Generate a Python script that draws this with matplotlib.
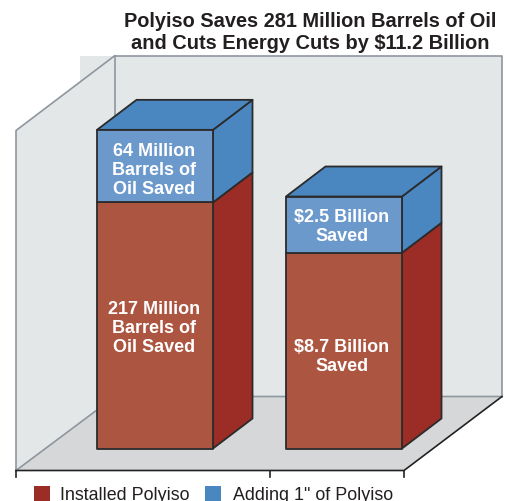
import matplotlib
matplotlib.use('Agg')
import matplotlib.pyplot as plt
from matplotlib.patches import Polygon, Rectangle

plt.rcParams['font.family'] = ['Liberation Sans', 'DejaVu Sans']

# values
categories = ['Barrels', 'Dollars']
installed = [217, 8.7]
adding = [64, 2.5]
bar_labels_low = ['217 Million\nBarrels of\nOil Saved', '$8.7 Billion\nSaved']
bar_labels_up = ['64 Million\nBarrels of\nOil Saved', '$2.5 Billion\nSaved']
legend_names = ['Installed Polyiso', 'Adding 1" of Polyiso']
title = 'Polyiso Saves 281 Million Barrels of Oil\nand Cuts Energy Cuts by $11.2 Billion'

# the two bars have no shared axis, each one has its own scale (px per unit)
scales = [1.134, 22.5]
bar_left = [97, 286]
bar_w = 116
base_y = 449
dx, dy = 39.5, -30
# small nudges so the labels sit where they do in the source
label_dx = [-1, -2]
low_dy = [2, 5]
up_dy = [3.5, 1.5]

RED_FRONT = '#AC5641'
RED_SIDE = '#9C2C26'
BLUE_FRONT = '#6C99CC'
BLUE_SIDE = '#4A86C0'
EDGE = '#2B2B2B'
WALL = '#E4E7E8'
FLOOR = '#D6D7D9'
GRID = '#8E969E'

fig = plt.figure(figsize=(5.09, 5.02), dpi=100)
ax = fig.add_axes([0, 0, 1, 1])
ax.set_xlim(0, 509)
ax.set_ylim(501.5, -0.5)
ax.axis('off')


def poly(pts, fc, ec=EDGE, lw=1.3, z=2):
    ax.add_patch(Polygon(pts, closed=True, facecolor=fc, edgecolor=ec, lw=lw, zorder=z, joinstyle='round'))


# walls and floor
ax.add_patch(Rectangle((80, 56), 35, 60, facecolor=WALL, edgecolor='none', zorder=0))
poly([(16, 131), (115, 56), (115, 397), (16, 471)], WALL, 'none', 0, 1)
poly([(115, 56), (502, 56), (502, 397), (115, 397)], WALL, 'none', 0, 1)
poly([(16, 471), (115, 397), (502, 397), (404, 471)], FLOOR, 'none', 0, 1)
ax.plot([16, 16, 115, 115], [471, 131, 56, 397], color=GRID, lw=1.2, zorder=1.5)
ax.plot([115, 502, 502], [56, 56, 397], color=GRID, lw=1.2, zorder=1.5)
ax.plot([16, 115, 502], [471, 397, 397], color=GRID, lw=1.2, zorder=1.5)
ax.plot([502, 404, 16], [397, 471, 471], color='#222222', lw=1.2, zorder=1.5)
for t in [16, 270, 404]:
    ax.plot([t, t], [471, 477], color='#222222', lw=1.2, zorder=1.5)


# bars
def box(x, y0, y1, front, side, top=None):
    x1 = x + bar_w
    poly([(x1, y0), (x1 + dx, y0 + dy), (x1 + dx, y1 + dy), (x1, y1)], side)
    if top:
        poly([(x, y1), (x + dx, y1 + dy), (x1 + dx, y1 + dy), (x1, y1)], top)
    poly([(x, y0), (x1, y0), (x1, y1), (x, y1)], front)


for i in range(len(categories)):
    x = bar_left[i]
    split = base_y - installed[i] * scales[i]
    top = split - adding[i] * scales[i]
    box(x, base_y, split, RED_FRONT, RED_SIDE)
    box(x, split, top, BLUE_FRONT, BLUE_SIDE, BLUE_SIDE)
    cx = x + bar_w / 2 + label_dx[i]
    ax.text(cx, (base_y + split) / 2 + low_dy[i], bar_labels_low[i], color='white', fontweight='bold',
            fontsize=13, ha='center', va='center', linespacing=1.17, zorder=3)
    ax.text(cx, (split + top) / 2 + up_dy[i], bar_labels_up[i], color='white', fontweight='bold',
            fontsize=13, ha='center', va='center', linespacing=1.17, zorder=3)

# title
ax.text(310, 32, title, color='#231F20', fontweight='bold', fontsize=14.4, ha='center', va='center', linespacing=1.26)

# legend (runs off the bottom edge like the source)
for lx, tx, c, name in zip([34, 205], [60, 233], [RED_SIDE, BLUE_SIDE], legend_names):
    ax.add_patch(Rectangle((lx, 486), 16, 16, facecolor=c, edgecolor='none'))
    ax.text(tx, 500, name, color='#231F20', fontsize=12.9, ha='left', va='baseline')

fig.savefig('out.png', dpi=100)
